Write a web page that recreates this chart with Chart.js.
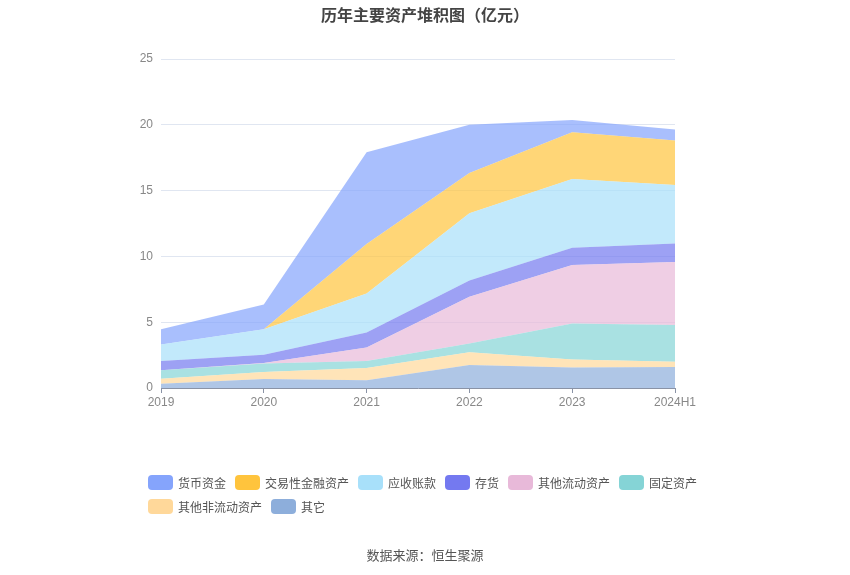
<!DOCTYPE html>
<html>
<head>
<meta charset="utf-8">
<script src="https://cdn.jsdelivr.net/npm/chart.js@4/dist/chart.umd.min.js"></script>
<style>
    body { margin: 0; background: #fff; font-family: "Noto Sans CJK SC", "Noto Sans", sans-serif; }
    #wrap { position: relative; width: 850px; height: 575px; }
    #title { position: absolute; top: 2px; left: 0; width: 850px; text-align: center; font-size: 16px; font-weight: bold; color: #444; }
    #legend { position: absolute; left: 148px; top: 474px; width: 580px; font-size: 12px; color: #555; }
    .item { display: inline-flex; align-items: center; margin: 0 9px 8px 0; height: 16px; }
    .box { width: 25px; height: 15px; border-radius: 4px; margin-right: 5px; }
    #source { position: absolute; top: 545px; left: 0; width: 850px; text-align: center; font-size: 13px; color: #555; }
</style>
</head>
<body>
<div id="wrap">
    <canvas id="myChart" width="850" height="575"></canvas>
    <div id="title">历年主要资产堆积图（亿元）</div>
    <div id="legend"></div>
    <div id="source">数据来源：恒生聚源</div>
</div>
<script>
let labels = ['2019', '2020', '2021', '2022', '2023', '2024H1'];
let yTicks = [0, 5, 10, 15, 20, 25];

// series, legend order (top of stack first)
let names = ['货币资金', '交易性金融资产', '应收账款', '存货', '其他流动资产', '固定资产', '其他非流动资产', '其它'];
let colors = ['133,164,252', '255,196,61', '168,224,250', '116,121,240', '232,185,217', '133,212,214', '255,216,154', '141,174,219'];

let huobi = [1.17, 1.88, 6.97, 3.66, 0.92, 0.84];
let jiaoyi = [0, 0, 3.76, 3.07, 3.56, 3.37];
let yingshou = [1.24, 1.95, 2.97, 5.11, 5.23, 4.45];
let cunhuo = [0.71, 0.62, 1.15, 1.22, 1.30, 1.40];
let qitaliudong = [0, 0.04, 1.01, 3.56, 4.45, 4.80];
let guding = [0.64, 0.64, 0.54, 0.66, 2.74, 2.78];
let feiliudong = [0.38, 0.53, 0.94, 0.97, 0.61, 0.40];
let qita = [0.33, 0.69, 0.58, 1.75, 1.55, 1.60];

let series = [huobi, jiaoyi, yingshou, cunhuo, qitaliudong, guding, feiliudong, qita];

// bottom of the stack is drawn first
let datasets = [];
for (let i = series.length - 1; i >= 0; i--) {
    datasets.push({
        label: names[i],
        data: series[i],
        backgroundColor: 'rgba(' + colors[i] + ',0.7)',
        borderWidth: 0,
        pointRadius: 0,
        tension: 0,
        fill: datasets.length === 0 ? 'origin' : '-1'
    });
}

let legend = document.getElementById('legend');
for (let i = 0; i < names.length; i++) {
    let el = document.createElement('span');
    el.className = 'item';
    el.innerHTML = '<span class="box" style="background:rgb(' + colors[i] + ')"></span>' + names[i];
    legend.appendChild(el);
    if (i === 5) legend.appendChild(document.createElement('br'));
}

let ctx = document.getElementById('myChart');
let myChart = new Chart(ctx, {
    type: 'line',
    data: { labels: labels, datasets: datasets },
    options: {
        responsive: false,
        animation: false,
        layout: { padding: { left: 121, right: 175, top: 59, bottom: 157 } },
        plugins: { legend: { display: false }, title: { display: false }, tooltip: { enabled: false } },
        scales: {
            x: {
                stacked: true,
                offset: false,
                grid: { drawOnChartArea: false, tickLength: 5, color: '#8a93a6' },
                border: { color: '#8a93a6' },
                ticks: { color: '#888', font: { size: 12 }, padding: 2, maxRotation: 0 },
                afterFit: function (axis) { axis.height = 30; }
            },
            y: {
                stacked: true,
                min: 0,
                max: 25,
                afterBuildTicks: function (axis) { axis.ticks = yTicks.map(v => ({ value: v })); },
                grid: { drawTicks: false, color: '#e0e6f1' },
                border: { display: false },
                ticks: { color: '#888', font: { size: 12 }, padding: 8 },
                afterFit: function (axis) { axis.width = 40; }
            }
        }
    }
});
</script>
</body>
</html>
